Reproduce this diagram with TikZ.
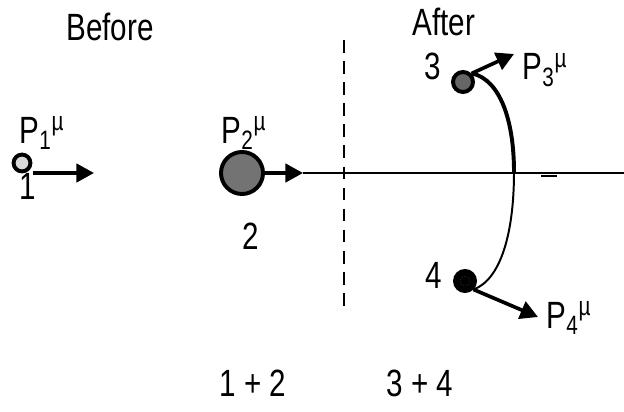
\documentclass[tikz,border=0pt]{standalone}
\usepackage{fontspec}
\setmainfont[FakeStretch=0.78]{Liberation Sans}
\usetikzlibrary{arrows.meta,positioning}

\begin{document}
\begin{tikzpicture}[
    x=0.025cm, y=-0.025cm,
    every node/.style={font=\fontsize{27}{30}\selectfont, inner sep=0pt},
    particle/.style={circle, draw=black, line width=2.8pt, minimum size=#1},
    momarrow/.style={-{Triangle[length=12.5pt,width=13pt]}, line width=2.6pt},
    beamline/.style={line width=1.4pt},
    track/.style={line width=#1},
]
\useasboundingbox (0,0) rectangle (624,412);

% Headings
\node (before) at (110,27) {Before};
\node (after) at (444,22) {After};

% Incoming particles
\node[particle=12pt, fill=black!15] (p1) at (22,163) {};
\node[particle=1.05cm, fill=black!55] (p2) at (242,173) {};
\node (l1) at (28,186) {1};
\node (l2) at (251,236) {2};
\node (m1) at (42,133) {P\textsubscript{1}\textsuperscript{µ}};
\node (m2) at (244,133) {P\textsubscript{2}\textsuperscript{µ}};

% Outgoing particles
\node[particle=0.5cm, fill=black!60] (p3) at (463,82) {};
\node[particle=0.5cm, fill=black] (p4) at (465,281) {};
\draw[black!60, densely dotted, line width=0.3pt] (p4) circle (5);
\node (l3) at (433,66) {3};
\node (l4) at (434,275) {4};
\node (m3) at (545,70) {P\textsubscript{3}\textsuperscript{µ}};
\node (m4) at (569,318) {P\textsubscript{4}\textsuperscript{µ}};

% Momentum arrows
\coordinate (a1) at (94,173);
\coordinate (a2) at (303,173);
\coordinate (a3) at (514,54);
\coordinate (a4) at (538,317);
\draw[momarrow] (p1.east) ++(1,10) -- (a1);
\draw[momarrow] (p2) -- (a2);
\draw[momarrow] (p3.north east) -- (a3);
\draw[momarrow] (p4.south east) -- (a4);

% Beam line and boundary
\coordinate (bend) at (624,173);
\draw[beamline] (a2) -- (bend);
\coordinate (dtop) at (344,40);
\coordinate (dbot) at (344,306);
\draw[line width=1.4pt, dash pattern=on 9pt off 6pt] (dtop) -- (dbot);
\coordinate (tick) at (557,176);
\draw[line width=1.2pt] (tick) -- ++(-16,0);

% Tracks
\coordinate (vtx) at (514,172);
\draw[track=2.8pt] (p3.north east) ++(1,0) .. controls (500,80) and (514,120) .. (vtx);
\draw[track=1.4pt] (vtx) .. controls (514,235) and (500,280) .. (p4.south east);

% Sums
\node (s12) at (253,383) {1 + 2};
\node (s34) at (420,383) {3 + 4};

\end{tikzpicture}
\end{document}
